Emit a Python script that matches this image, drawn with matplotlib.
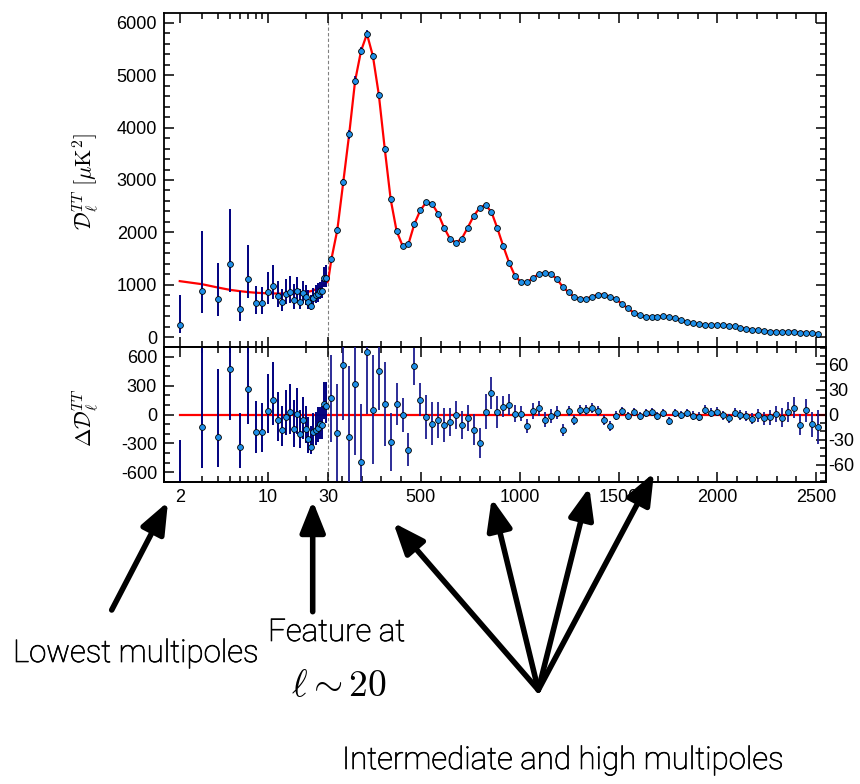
import matplotlib
matplotlib.use("Agg")
import matplotlib.pyplot as plt
import matplotlib.patheffects as pe
import numpy as np
from matplotlib.ticker import FixedLocator, MultipleLocator, FuncFormatter, NullFormatter
from matplotlib.patches import FancyArrowPatch

plt.rcParams["font.family"] = ["Liberation Sans", "DejaVu Sans"]
plt.rcParams["mathtext.fontset"] = "cm"
plt.rcParams["axes.unicode_minus"] = False

# ---- data ---------------------------------------------------------------
# low multipoles, one point per l
ell_low = list(range(2, 30))
dl_low = [235, 884, 725, 1392, 540, 1119, 655, 648, 871, 985, 788, 674, 826, 871,
          712, 877, 680, 839, 763, 680, 598, 757, 807, 826, 884, 890, 1125, 1138]
err_up = [572, 1144, 699, 1056, 350, 636, 330, 306, 381, 395, 293, 254, 280, 299,
          305, 267, 248, 235, 235, 223, 209, 190, 191, 217, 178, 203, 223, 242]
err_dn = [159, 426, 318, 534, 222, 362, 210, 203, 235, 260, 216, 165, 190, 223,
          178, 209, 146, 191, 146, 146, 77, 140, 159, 146, 159, 146, 159, 184]
res_low = [-836, -127, -230, 473, -333, 261, -185, -185, 41, 151, -55, -161, -24, 21,
           -154, 7, -206, -58, -147, -254, -333, -178, -161, -137, -96, -113, 110, 93]

# best-fit model at low l
theory_low_ell = [2, 3, 4, 5, 6, 7, 8, 10, 12, 15, 18, 20, 22, 25, 27, 29, 30]
theory_low_dl = [1071, 1013, 950, 905, 880, 862, 850, 838, 835, 835, 845, 860, 880,
                 930, 980, 1040, 1062]

# binned high multipoles (bins of 30)
ell_high = list(range(47, 2508, 30))
dl_high = [1488, 2047, 2956, 3872, 4889, 5461, 5785, 5366, 4628, 3598, 2632,
           2028, 1748, 1780, 2161, 2422, 2575, 2543, 2359, 2092, 1882, 1805,
           1882, 2092, 2314, 2467, 2524, 2390, 2079, 1736, 1418, 1163, 1055,
           1049, 1132, 1208, 1233, 1208, 1119, 966, 858, 763, 731, 737,
           776, 814, 814, 776, 725, 642, 553, 470, 420, 394, 394,
           394, 407, 381, 362, 331, 292, 267, 248, 235, 235, 235,
           229, 222, 210, 184, 165, 146, 134, 121, 108, 108, 102,
           108, 108, 89, 89, 76, 64]
res_high = [19.6, -21.6, 58.8, -27.2, 36.8, -56.8, 75.2, 6.0, 51.6, 12.8, -33.2,
            12.8, -0.4, -42.0, 57.6, 18.0, -2.8, -10.8, -6.4, -12.4, -8.8, -0.4,
            -12.8, -4.0, -18.0, -34.0, 3.2, 26.0, 3.2, 9.6, 12.0, 1.2, 1.2,
            -13.6, 4.4, 7.6, -6.4, -1.6, 2.4, -18.8, 4.8, -6.0, 5.2, 5.2,
            7.6, 4.4, -6.8, -13.2, -1.2, 4.4, -2.0, 2.8, -1.6, 2.0, 2.8,
            -1.6, 2.0, -7.6, 2.0, -0.4, 1.6, -1.2, -2.4, 6.0, 2.0, 3.6,
            -0.8, -4.4, 2.4, 0.0, -1.2, -4.8, -0.8, -4.4, -3.2, 0.8, -3.6,
            2.8, 8.4, -12.0, 5.2, -11.6, -14.8]
err_high = [52, 58, 65, 85, 85, 70, 75, 65, 46, 50, 35,
            25, 20, 20, 22, 20, 26, 26, 22, 20, 17, 17,
            17, 16, 19, 18, 21, 19, 19, 13, 13, 10, 9,
            8, 10, 9, 9, 8, 8, 7, 6, 6, 6, 6,
            6, 6, 6, 6, 5, 5, 5, 5, 5, 5, 5,
            5, 5, 5, 5, 5, 5, 5, 5, 5.5, 5.5, 5.5,
            5.5, 5.5, 5.5, 6, 6, 7, 8, 8, 9, 10, 11,
            12, 13, 13, 14, 15, 20]

major_ticks = [2, 10, 30, 500, 1000, 1500, 2000, 2500]
minor_ticks = [3, 4, 5, 6, 7, 8, 9, 20] + [v for v in range(100, 2500, 100) if v % 500]

BLUE = "#1e8fe8"
NAVY = "#00007f"

W, H = 860, 784

# hybrid axis: log below l=30, linear above (in pixel units)
PX_DEC = 126.0
PX_LIN = 0.1975
L_SPLIT = 30.0
X0 = np.log10(L_SPLIT) * PX_DEC


def fwd(l):
    l = np.asarray(l, dtype=float)
    lo = np.log10(np.clip(l, 1e-3, None)) * PX_DEC
    hi = X0 + (l - L_SPLIT) * PX_LIN
    return np.where(l < L_SPLIT, lo, hi)


def inv(x):
    x = np.asarray(x, dtype=float)
    lo = 10 ** (np.clip(x, None, X0) / PX_DEC)
    hi = L_SPLIT + (x - X0) / PX_LIN
    return np.where(x < X0, lo, hi)


def px(x, y):
    return (x / W, 1 - y / H)


def box(l, t, r, b):
    return [l / W, 1 - b / H, (r - l) / W, (b - t) / H]


fig = plt.figure(figsize=(W / 100, H / 100), dpi=100)
ax = fig.add_axes(box(164, 13, 826, 347))
axr = fig.add_axes(box(164, 347, 826, 482))
axr.set_xscale("function", functions=(fwd, inv))
ax.set_xscale("function", functions=(fwd, inv))
axr2 = axr.twinx()

for a in (ax, axr):
    a.set_xlim(1.5, 2550)
    a.xaxis.set_major_locator(FixedLocator(major_ticks))
    a.xaxis.set_minor_locator(FixedLocator(minor_ticks))
    a.xaxis.set_minor_formatter(NullFormatter())
    a.axvline(L_SPLIT, color="gray", ls=(0, (3, 2)), lw=0.8, zorder=1)
    for s in a.spines.values():
        s.set_linewidth(1.3)
for s in axr2.spines.values():
    s.set_linewidth(1.3)

# --- top panel
ax.plot(theory_low_ell + ell_high, theory_low_dl + dl_high, color="red", lw=1.6, zorder=2)
ax.errorbar(ell_low, dl_low, yerr=[err_dn, err_up], fmt="o", ms=4.2, mfc=BLUE, mec="black",
            mew=0.6, ecolor=NAVY, elinewidth=1.4, capsize=0, zorder=3)
ax.errorbar(ell_high, dl_high, yerr=err_high, fmt="o", ms=4.2, mfc=BLUE, mec="black",
            mew=0.6, ecolor=NAVY, elinewidth=1.2, capsize=0, zorder=3)
ax.set_ylim(-185, 6185)
ax.yaxis.set_major_locator(MultipleLocator(1000))
ax.yaxis.set_minor_locator(MultipleLocator(200))
ax.xaxis.set_major_formatter(NullFormatter())
ax.tick_params(which="both", direction="in", top=True, bottom=True, left=True, right=True,
               labelsize=13, width=1.1, pad=5)
ax.tick_params(which="major", length=7)
ax.tick_params(which="minor", length=4)

# --- residual panel
axr.plot([ell_low[0], 2550], [0, 0], color="red", lw=1.6, zorder=2)
axr.errorbar(ell_low, res_low, yerr=[err_dn, err_up], fmt="o", ms=4.2, mfc=BLUE, mec="black",
             mew=0.6, ecolor=NAVY, elinewidth=1.4, capsize=0, zorder=3)
axr.set_ylim(-700, 700)
axr.yaxis.set_major_locator(MultipleLocator(300))
axr.yaxis.set_minor_locator(MultipleLocator(100))
axr.xaxis.set_major_formatter(FuncFormatter(lambda v, p: f"{v:g}"))
axr.tick_params(which="both", direction="in", top=True, bottom=True, left=True, right=False,
                labelsize=13, width=1.1, pad=5)
axr.tick_params(which="major", length=7)
axr.tick_params(which="minor", length=4)

axr2.errorbar(ell_high, res_high, yerr=err_high, fmt="o", ms=4.2, mfc=BLUE, mec="black",
              mew=0.6, ecolor="#1b1b8f", elinewidth=1.3, capsize=0, zorder=3)
axr2.set_ylim(-81, 81)
axr2.yaxis.set_major_locator(MultipleLocator(30))
axr2.yaxis.set_minor_locator(MultipleLocator(10))
axr2.tick_params(which="both", direction="in", left=False, right=True, labelsize=13,
                 width=1.1, pad=1.5)
axr2.tick_params(which="major", length=7)
axr2.tick_params(which="minor", length=4)

# axis labels
fig.text(*px(86, 182), r"$\mathcal{D}_\ell^{TT}\ [\mu{\rm K}^2]$", rotation=90,
         ha="center", va="center", fontsize=16)
fig.text(*px(86, 418), r"$\Delta\mathcal{D}_\ell^{TT}$", rotation=90,
         ha="center", va="center", fontsize=16)
fig.text(*px(495, 522), r"$\ell$", ha="center", va="center", fontsize=14)

# annotations
arrows = [
    ((111.7, 610), (168, 501.7)),
    ((312.7, 611.7), (312.7, 500.7)),
    ((538.3, 690), (393.3, 522.7)),
    ((538.3, 690), (491.7, 498.3)),
    ((538.3, 690), (589.3, 487.3)),
    ((538.3, 690), (654, 472.7)),
]
for tail, tip in arrows:
    fig.add_artist(FancyArrowPatch(px(*tail), px(*tip), transform=fig.transFigure,
                                   arrowstyle="-|>,head_length=1.05,head_width=0.42",
                                   mutation_scale=18, lw=4.0, color="black",
                                   shrinkA=0, shrinkB=0))

# light sans text, darkened a touch with a thin outline
note_font = dict(family=["Roboto", "Liberation Sans"], weight="light", fontsize=22.5,
                 color="black",
                 path_effects=[pe.withStroke(linewidth=0.5, foreground="black")])
fig.text(*px(13, 662), "Lowest multipoles", ha="left", va="baseline", **note_font)
fig.text(*px(268, 641), "Feature at", ha="left", va="baseline", **note_font)
fig.text(*px(339, 686), r"$\ell \sim 20$", fontsize=27, ha="center", va="center")
fig.text(*px(342, 769), "Intermediate and high multipoles", ha="left", va="baseline",
         **note_font)

fig.savefig("out.png", dpi=100)
